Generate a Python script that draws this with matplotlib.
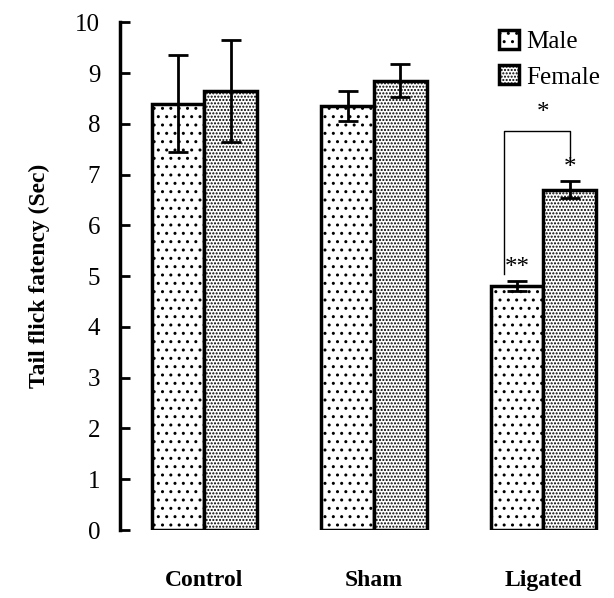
import numpy as np
import matplotlib.pyplot as plt

plt.rcParams['font.family'] = ['Liberation Serif', 'DejaVu Serif']
plt.rcParams['hatch.linewidth'] = 1.0

groups = ['Control', 'Sham', 'Ligated']
male = [8.4, 8.35, 4.8]
male_err = [0.95, 0.3, 0.1]
female = [8.65, 8.85, 6.7]
female_err = [1.0, 0.33, 0.17]

x = np.arange(len(groups))
w = 0.31

fig = plt.figure(figsize=(6.14, 5.98), dpi=100)
ax = fig.add_axes([0.195, 0.1137, 0.795, 0.849])

ax.bar(x - w/2, male, w, color='white', edgecolor='black', linewidth=2.5,
       hatch='..', label='Male')
ax.bar(x + w/2, female, w, color='white', edgecolor='black', linewidth=2.5,
       hatch='.....', label='Female')
ax.errorbar(x - w/2, male, yerr=male_err, fmt='none', ecolor='black',
            elinewidth=2, capsize=7, capthick=2)
ax.errorbar(x + w/2, female, yerr=female_err, fmt='none', ecolor='black',
            elinewidth=2, capsize=7, capthick=2)

# significance marks on the ligated group
xm, xf = x[2] - w/2, x[2] + w/2
ax.text(xm, male[2] + male_err[2] + 0.05, '**', ha='center', va='bottom', fontsize=18)
ax.text(xf, female[2] + female_err[2] + 0.05, '*', ha='center', va='bottom', fontsize=18)
ax.plot([xm - 0.08, xm - 0.08, xf, xf], [5.05, 7.85, 7.85, 7.25], color='black', lw=1)
ax.text((xm + xf) / 2, 8.0, '*', ha='center', va='bottom', fontsize=18)

ax.set_xlim(-0.5, 2.38)
ax.set_ylim(0, 10)
ax.set_yticks(range(11))
ax.tick_params(axis='y', direction='in', length=7, width=2, labelsize=18, pad=14)
ax.set_xticks([])
for s in ['top', 'right', 'bottom']:
    ax.spines[s].set_visible(False)
ax.spines['left'].set_linewidth(2.5)

ax.set_ylabel('Tail flick fatency (Sec)', fontsize=17, fontweight='bold', labelpad=18)
for xi, g in zip(x, groups):
    ax.text(xi, -1.0, g, ha='center', va='center', fontsize=17, fontweight='bold')

ax.legend(loc='upper right', bbox_to_anchor=(1.03, 1.03), frameon=False,
          fontsize=18, handlelength=0.8, handleheight=0.8, handletextpad=0.3,
          labelspacing=0.5)

fig.savefig('out.png')
